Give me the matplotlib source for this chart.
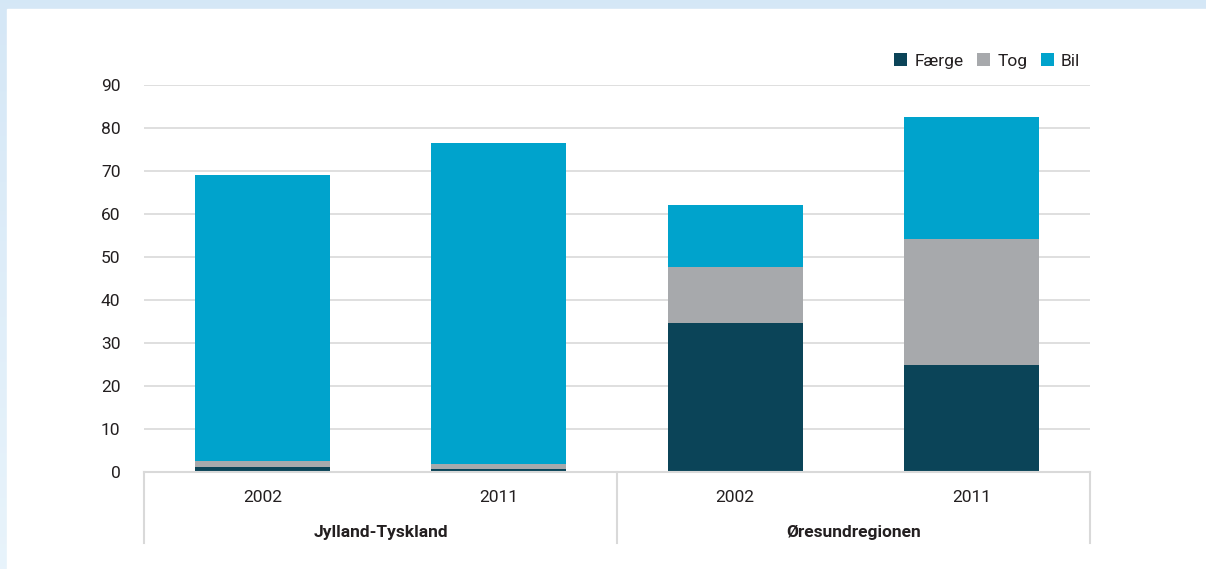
import matplotlib.pyplot as plt
from matplotlib.patches import Rectangle
import numpy as np

plt.rcParams["font.family"] = ["Roboto", "DejaVu Sans"]

regions = ["Jylland-Tyskland", "Øresundregionen"]
years = ["2002", "2011", "2002", "2011"]
faerge = [1.2, 0.8, 34.7, 24.9]
tog = [1.4, 1.1, 13.0, 29.3]
bil = [66.4, 74.6, 14.4, 28.4]

c_faerge = "#0b4458"
c_tog = "#a7a9ac"
c_bil = "#00a3cc"
grid_c = "#d9d9d9"
text_c = "#231f20"

W, H = 1206, 569
fig = plt.figure(figsize=(W / 100, H / 100), dpi=100)

# light blue frame with a soft fade down the left edge
bg = fig.add_axes([0, 0, 1, 1], zorder=-10)
top = np.array([0.835, 0.906, 0.965])
bottom = np.array([0.91, 0.955, 0.985])
t = np.linspace(0, 1, 200)[:, None, None]
grad = top * (1 - t) + bottom * t
bg.imshow(np.repeat(grad, 2, axis=1), aspect="auto", extent=[0, 1, 0, 1])
bg.add_patch(Rectangle((7 / W, 0), 1, (H - 9) / H, color="white"))
bg.set_xlim(0, 1)
bg.set_ylim(0, 1)
bg.axis("off")

x0, x1 = 144, 1090
y0, y90 = 472, 85
ax = fig.add_axes([x0 / W, (H - y0) / H, (x1 - x0) / W, (y0 - y90) / H])
x = np.arange(len(years))
w = 0.57
f = np.array(faerge)
tg = np.array(tog)
b = np.array(bil)
ax.bar(x, f, w, color=c_faerge, label="Færge", zorder=3)
ax.bar(x, tg, w, bottom=f, color=c_tog, label="Tog", zorder=3)
ax.bar(x, b, w, bottom=f + tg, color=c_bil, label="Bil", zorder=3)

ax.set_xlim(-0.5, 3.5)
ax.set_ylim(0, 90)
ax.set_yticks(range(0, 91, 10))
ax.yaxis.grid(True, color=grid_c, linewidth=1.2, zorder=0)
ax.set_axisbelow(True)
ax.set_xticks([])
ax.tick_params(axis="y", length=0, pad=17, labelsize=12.5, labelcolor=text_c)
for s in ax.spines.values():
    s.set_visible(False)

# category table under the bars
tb = fig.add_axes([x0 / W, (H - 543) / H, (x1 - x0) / W, (543 - y0) / H])
tb.set_xlim(-0.5, 3.5)
tb.set_ylim(0, 1)
tb.axis("off")
tb.axhline(1, color=grid_c, linewidth=1.5, clip_on=False)
for xv in (-0.5, 1.5, 3.5):
    tb.axvline(xv, color=grid_c, linewidth=1.5, clip_on=False)
for xi, yr in zip(x, years):
    tb.text(xi, 0.64, yr, ha="center", va="center", fontsize=12.5, color=text_c)
for i, reg in enumerate(regions):
    tb.text(2 * i + 0.5, 0.15, reg, ha="center", va="center", fontsize=12.5,
            fontweight="bold", color=text_c)

handles, labels = ax.get_legend_handles_labels()
fig.legend(handles, labels, loc="center right", ncol=3, frameon=False,
           bbox_to_anchor=(1096 / W, (H - 61) / H), fontsize=12.5,
           handlelength=0.75, handleheight=0.75, handletextpad=0.4,
           columnspacing=0.8, labelcolor=text_c)

fig.savefig("out.png", dpi=100)
